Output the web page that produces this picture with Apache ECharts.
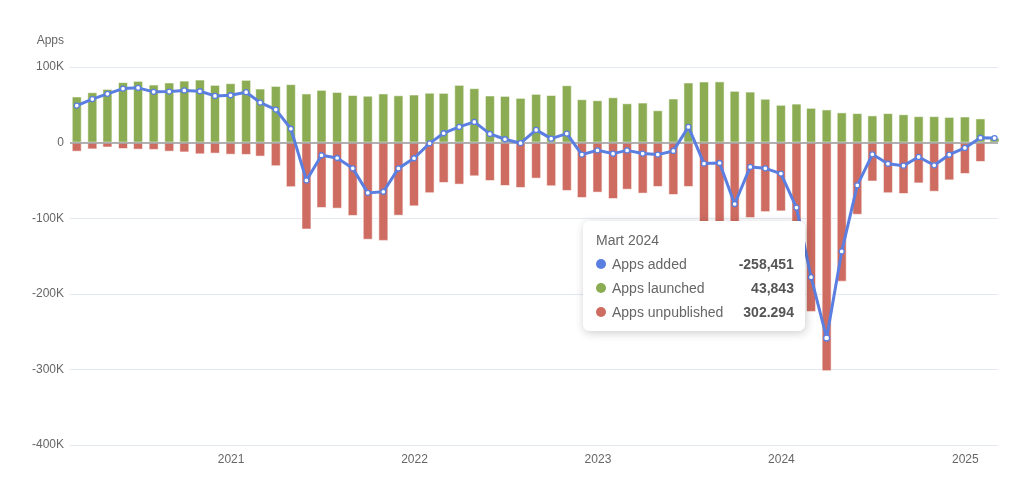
<!DOCTYPE html>
<html>
<head>
<meta charset="utf-8">
<script src="https://cdn.jsdelivr.net/npm/echarts@6/dist/echarts.min.js"></script>
<style>
  html, body { margin: 0; padding: 0; background: #ffffff; }
  #chart { width: 1024px; height: 482px; }
</style>
</head>
<body>
<div id="chart"></div>
<script>
// Months (data points are dated at the end of each month)
const months = [
  '2020-02','2020-03','2020-04','2020-05','2020-06','2020-07','2020-08','2020-09','2020-10','2020-11','2020-12',
  '2021-01','2021-02','2021-03','2021-04','2021-05','2021-06','2021-07','2021-08','2021-09','2021-10','2021-11','2021-12',
  '2022-01','2022-02','2022-03','2022-04','2022-05','2022-06','2022-07','2022-08','2022-09','2022-10','2022-11','2022-12',
  '2023-01','2023-02','2023-03','2023-04','2023-05','2023-06','2023-07','2023-08','2023-09','2023-10','2023-11','2023-12',
  '2024-01','2024-02','2024-03','2024-04','2024-05','2024-06','2024-07','2024-08','2024-09','2024-10','2024-11','2024-12',
  '2025-01','2025-02'
];

const appsLaunched = [
  61000, 66600, 71000, 80000, 81700, 76800, 79500, 82000, 83400, 76400, 78600,
  83000, 71500, 75000, 77300, 65000, 69800, 67000, 63000, 62000, 65000, 62600, 63600,
  66000, 65800, 76400, 72000, 62300, 61800, 59200, 64500, 63000, 75900, 57400, 56000,
  60000, 52000, 53000, 42800, 58300, 79500, 80800, 81000, 68500, 67500, 58000, 50000,
  51600, 46000, 43843, 40000, 39000, 36000, 39000, 37500, 35000, 35000, 34000, 34500,
  32000, 6600
];

// counts of apps unpublished (drawn below zero)
const appsUnpublished = [
  12000, 9000, 6500, 8500, 9300, 9700, 12000, 13000, 15500, 14600, 16000,
  16300, 18500, 31300, 59000, 115000, 86500, 87400, 97000, 128500, 130000, 96700, 84300,
  67000, 53400, 55600, 44600, 50800, 57400, 60000, 47700, 57800, 64000, 73300, 66200,
  74600, 62300, 67500, 58700, 69300, 58700, 108600, 108000, 149700, 99700, 92000, 91000,
  137600, 224000, 302294, 184000, 95500, 51500, 67000, 68000, 54000, 65000, 50000, 41500,
  25600, 600
];

const appsAdded = [
  49000, 57600, 64500, 71500, 72400, 67100, 67500, 69000, 67900, 61800, 62600,
  66700, 53000, 43700, 18300, -50000, -16700, -20400, -34000, -66500, -65000, -34100, -20700,
  -1000, 12400, 20800, 27400, 11500, 4400, -800, 16800, 5200, 11900, -15900, -10200,
  -14600, -10300, -14500, -15900, -11000, 20800, -27800, -27000, -81200, -32200, -34000, -41000,
  -86000, -178000, -258451, -144000, -56500, -15500, -28000, -30500, -19000, -30000, -16000, -7000,
  6400, 6000
];

const trMonths = ['Ocak','Şubat','Mart','Nisan','Mayıs','Haziran','Temmuz','Ağustos','Eylül','Ekim','Kasım','Aralık'];
const seriesNames = ['Apps added', 'Apps launched', 'Apps unpublished'];
const seriesColors = ['#5b7fe0', '#8bac52', '#cf6c61'];
const highlightedIndex = 49; // Mart 2024

function monthEnd(ym) {
  const p = ym.split('-').map(Number);
  return new Date(p[0], p[1], 0).getTime();
}
const times = months.map(monthEnd);

const FONT = "'Liberation Sans', Arial, Helvetica, sans-serif";
const chart = echarts.init(document.getElementById('chart'), null, { renderer: 'canvas' });

const option = {
  animation: false,
  textStyle: { fontFamily: FONT },
  grid: { left: 70, right: 26, top: 67, bottom: 37, containLabel: false },
  tooltip: {
    trigger: 'axis',
    triggerOn: 'none',
    alwaysShowContent: true,
    transitionDuration: 0,
    axisPointer: { type: 'none' },
    backgroundColor: '#ffffff',
    borderColor: '#ffffff',
    borderWidth: 1,
    padding: [11, 10, 11, 12],
    extraCssText: 'box-shadow: rgba(0,0,0,0.2) 1px 2px 10px; border-radius: 6px; font-family: ' + FONT + ';',
    position: function () { return [583, 221]; },
    formatter: function (params) {
      const d = new Date(params[0].axisValue);
      const head = trMonths[d.getMonth()] + ' ' + d.getFullYear();
      let html = '<div style="margin:0;line-height:1;">' +
        '<div style="font-size:14px;color:#666;font-weight:400;line-height:1;">' + head + '</div>' +
        '<div style="margin:10px 0 0;line-height:1;">';
      params.forEach(function (p, i) {
        const v = p.value[1];
        const idx = seriesNames.indexOf(p.seriesName);
        let txt;
        if (p.seriesName === 'Apps unpublished') {
          txt = Math.abs(v).toLocaleString('de-DE');
        } else {
          txt = v.toLocaleString('en-US');
        }
        html += '<div style="margin:' + (i === 0 ? '0' : '10px') + ' 0 0;line-height:1;">' +
          '<span style="display:inline-block;margin-right:4px;border-radius:10px;width:10px;height:10px;background-color:' + seriesColors[idx] + ';"></span>' +
          '<span style="font-size:14px;color:#666;font-weight:400;margin-left:2px">' + p.seriesName + '</span>' +
          '<span style="float:right;margin-left:20px;font-size:14px;color:#555;font-weight:700">' + txt + '</span>' +
          '<div style="clear:both"></div></div>';
      });
      html += '</div></div>';
      return html;
    }
  },
  xAxis: {
    type: 'time',
    // ECharts widens a time axis holding bars by about half a bar on each side
    min: new Date(2020, 1, 25, 12).getTime(),
    max: new Date(2025, 1, 25).getTime(),
    minInterval: 365 * 24 * 3600 * 1000,
    axisLine: { show: false },
    axisTick: { show: false },
    splitLine: { show: false },
    axisLabel: {
      color: '#666',
      fontSize: 12,
      margin: 9,
      fontFamily: FONT,
      formatter: function (value) {
        const d = new Date(value);
        return (d.getMonth() === 0 && d.getDate() === 1) ? String(d.getFullYear()) : '';
      }
    }
  },
  yAxis: {
    type: 'value',
    min: -400000,
    max: 100000,
    interval: 100000,
    name: 'Apps',
    nameLocation: 'end',
    nameGap: 20,
    nameTextStyle: { color: '#666', fontSize: 12, align: 'right', padding: [0, 6, 0, 0], fontFamily: FONT },
    axisLine: { show: false },
    axisTick: { show: false },
    axisLabel: {
      color: '#666',
      fontSize: 12,
      margin: 6,
      fontFamily: FONT,
      formatter: function (v) { return v === 0 ? '0' : (v / 1000) + 'K'; }
    },
    splitLine: { lineStyle: { color: '#e3e8f1', width: 1 } }
  },
  series: [
    {
      name: seriesNames[0],
      type: 'line',
      z: 6,
      data: times.map(function (t, i) { return [t, appsAdded[i]]; }),
      color: seriesColors[0],
      lineStyle: { width: 3, color: seriesColors[0] },
      symbol: 'circle',
      symbolSize: 5,
      itemStyle: { color: '#ffffff', borderColor: seriesColors[0], borderWidth: 1.3 },
      emphasis: { disabled: true }
    },
    {
      name: seriesNames[1],
      type: 'bar',
      barWidth: 10,
      barGap: '-100%',
      data: times.map(function (t, i) { return [t, appsLaunched[i]]; }),
      color: seriesColors[1],
      itemStyle: { color: seriesColors[1], borderColor: 'rgba(255,255,255,0.55)', borderWidth: 1 },
      emphasis: { disabled: true },
      markLine: {
        silent: true,
        symbol: 'none',
        label: { show: false },
        lineStyle: { color: '#9a9a9a', width: 1.5, type: 'solid' },
        data: [{ yAxis: 0 }]
      }
    },
    {
      name: seriesNames[2],
      type: 'bar',
      barWidth: 10,
      barGap: '-100%',
      data: times.map(function (t, i) { return [t, -appsUnpublished[i]]; }),
      color: seriesColors[2],
      itemStyle: { color: seriesColors[2], borderColor: 'rgba(255,255,255,0.55)', borderWidth: 1 },
      emphasis: { disabled: true }
    }
  ]
};

chart.setOption(option);
chart.dispatchAction({ type: 'showTip', seriesIndex: 0, dataIndex: highlightedIndex });
</script>
</body>
</html>
